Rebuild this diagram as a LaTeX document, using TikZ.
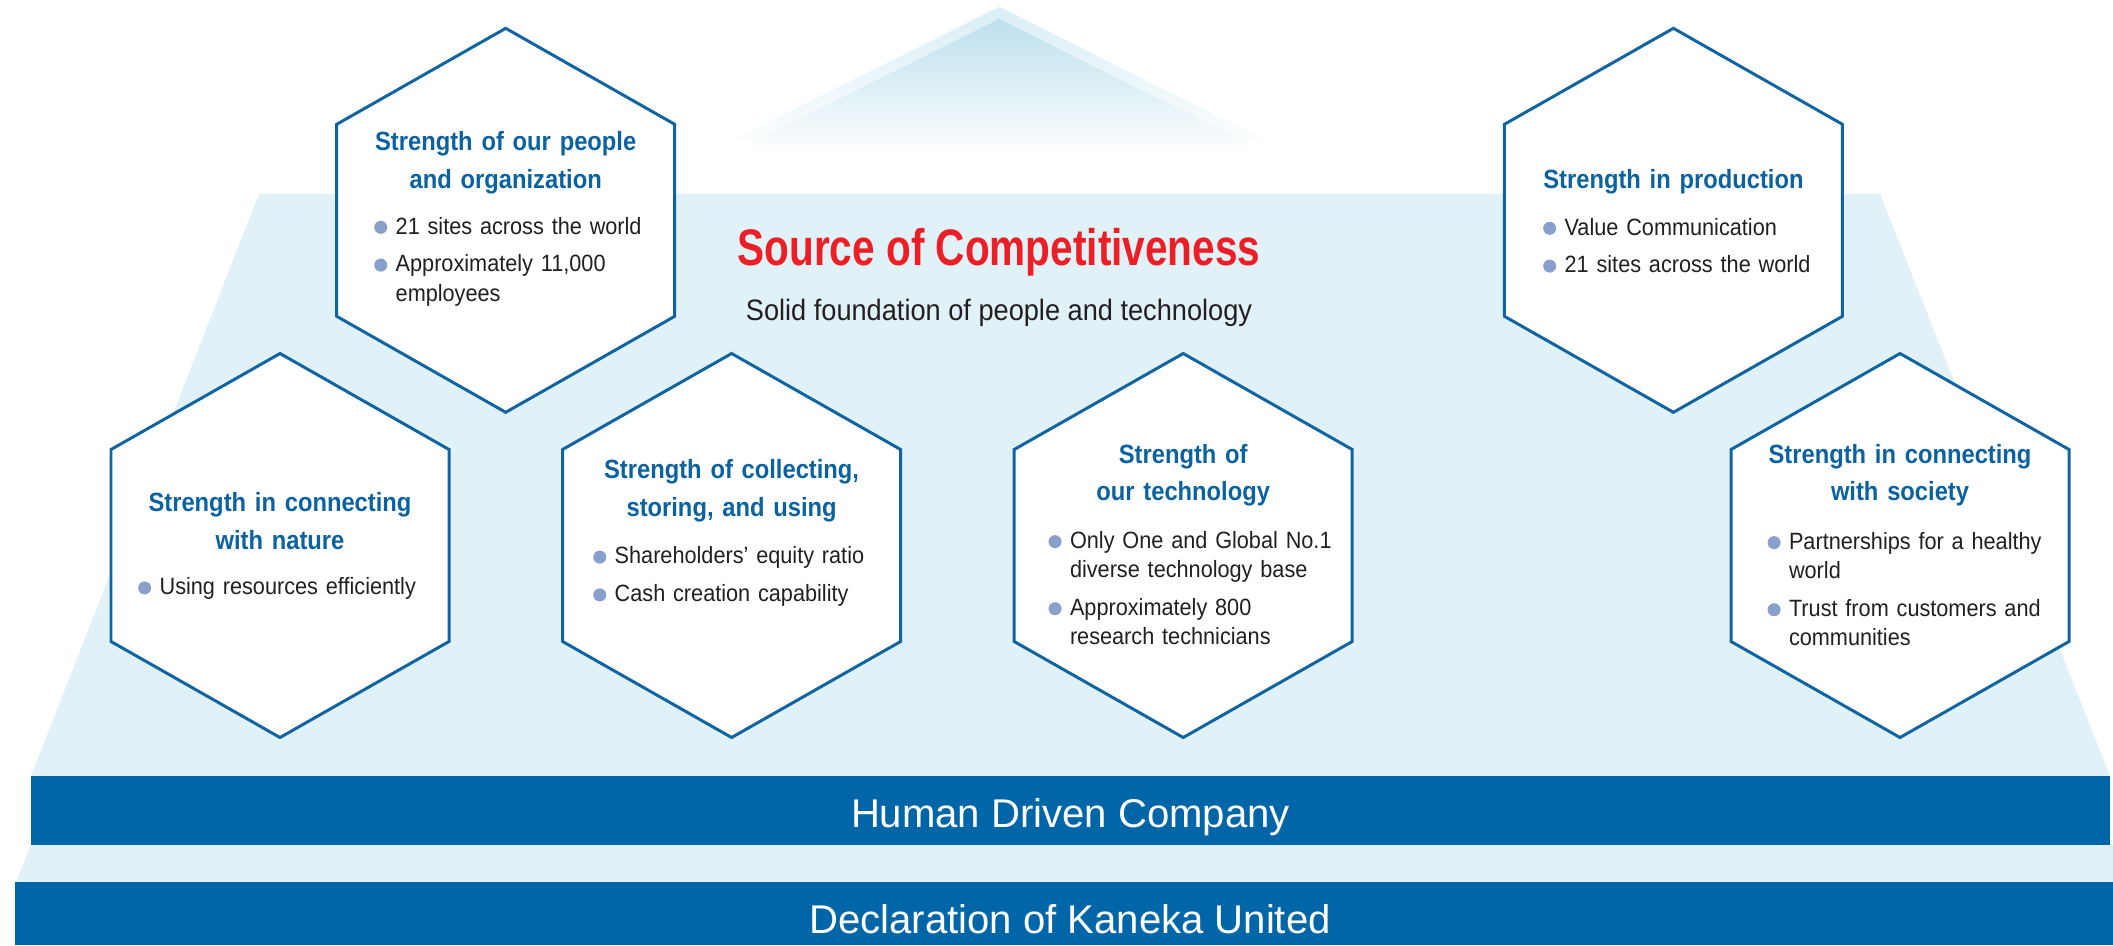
\documentclass[tikz,border=0pt]{standalone}
\usepackage{fontspec}
\setmainfont{Liberation Sans}
\newfontfamily\titlefont[FakeStretch=0.79]{Liberation Sans}
\newfontfamily\headfont[FakeStretch=0.9]{Liberation Sans}
\newfontfamily\bodyfont[FakeStretch=0.92]{Liberation Sans}

\definecolor{bgblue}{RGB}{224,242,247}
\definecolor{barblue}{RGB}{0,102,167}
\definecolor{hexblue}{RGB}{16,100,162}
\definecolor{titleblue}{RGB}{10,98,160}
\definecolor{srcred}{RGB}{236,30,38}
\definecolor{inkgray}{RGB}{35,31,32}
\definecolor{dotblue}{RGB}{137,160,204}
\definecolor{peakout}{RGB}{201,231,241}
\definecolor{peakin}{RGB}{159,210,229}

% sfumature della punta: bianco in basso
\pgfdeclareverticalshading{peakoutfade}{100bp}{color(0bp)=(white); color(18bp)=(white); color(100bp)=(peakout)}
\pgfdeclareverticalshading{peakinfade}{100bp}{color(0bp)=(white); color(20bp)=(white); color(100bp)=(peakin)}

\newcommand{\hexdot}{\makebox[0pt][r]{\tikz[baseline=0pt]\fill[dotblue] (0pt,1.9pt) circle (1.85pt);\hspace{2.4pt}}}

\tikzset{
  hexcell/.style={draw=hexblue, line width=0.85pt, fill=white},
  hextitle/.style={anchor=base, inner sep=0pt, text width=3.4cm, align=center, text=titleblue,
    font=\headfont\bfseries\fontsize{7.5}{10.7}\selectfont},
  hexlist/.style={anchor=base west, inner sep=0pt, text width=3cm, align=left, text=inkgray,
    font=\bodyfont\fontsize{6.7}{8.34}\selectfont},
  titletext/.style={anchor=base, inner sep=0pt, text=srcred, font=\titlefont\bfseries\fontsize{14.6}{17}\selectfont},
  subtext/.style={anchor=base, inner sep=0pt, text=inkgray, font=\bodyfont\fontsize{8.4}{10}\selectfont},
  bartext/.style={anchor=base, inner sep=0pt, text=white, font=\fontsize{11.4}{13}\selectfont},
}

\begin{document}
\begin{tikzpicture}[x=0.01cm, y=-0.01cm]
    \useasboundingbox (0,0) rectangle (2113,945);

    % Punta
    \shade[shading=peakoutfade] (733,140) -- (999,7) -- (1265,140) -- cycle;
    \shade[shading=peakinfade] (747,145) -- (999,19) -- (1251,145) -- cycle;

    % Sfondo
    \fill[bgblue] (259,194) -- (1880,194) -- (2110,776) -- (31,776) -- cycle;
    \fill[bgblue] (31,845) -- (2113,845) -- (2113,882) -- (16,882) -- cycle;

    % Esagoni
    \foreach \cx/\cy/\nm in {505.7/220.3/people, 1673.4/220.3/production, 280/545.5/nature,
        731.6/545.5/collecting, 1183.2/545.5/technology, 1900/545.5/society}{
        \coordinate (\nm) at (\cx,\cy);
        \draw[hexcell] (\cx,\cy-192) -- (\cx+169,\cy-96) -- (\cx+169,\cy+96) -- (\cx,\cy+192)
            -- (\cx-169,\cy+96) -- (\cx-169,\cy-96) -- cycle;
    }

    % Titolo
    \node[titletext] (source) at (999,265) {Source of Competitiveness};
    \node[subtext] (solid) at (999,320) {Solid foundation of people and technology};

    % Testi negli esagoni
    \node[hextitle] (t-people) at (505.7,150.7) {Strength of our people\\and organization};
    \node[hexlist] (l-people) at (395,234) {\hexdot 21 sites across the world\\[2.4pt]\hexdot Approximately 11,000\\employees};

    \node[hextitle] (t-production) at (1673.4,188.3) {Strength in production};
    \node[hexlist] (l-production) at (1563.9,235) {\hexdot Value Communication\\[2.4pt]\hexdot 21 sites across the world};

    \node[hextitle] (t-nature) at (280,511.7) {Strength in connecting\\with nature};
    \node[hexlist] (l-nature) at (158.9,594.6) {\hexdot Using resources efficiently};

    \node[hextitle] (t-collecting) at (731.6,478.9) {Strength of collecting,\\storing, and using};
    \node[hexlist] (l-collecting) at (614,563.8) {\hexdot Shareholders’ equity ratio\\[2.4pt]\hexdot Cash creation capability};

    \node[hextitle] (t-technology) at (1183.2,463.3) {Strength of\\our technology};
    \node[hexlist] (l-technology) at (1069.3,548.3) {\hexdot Only One and Global No.1\\diverse technology base\\[2.4pt]\hexdot Approximately 800\\research technicians};

    \node[hextitle] (t-society) at (1900,463.3) {Strength in connecting\\with society};
    \node[hexlist] (l-society) at (1788.3,549.3) {\hexdot Partnerships for a healthy\\world\\[2.4pt]\hexdot Trust from customers and\\communities};

    % Fasce
    \fill[barblue] (31,776) rectangle (2110,845);
    \fill[barblue] (15,882) rectangle (2113,945);
    \node[bartext] (hdc) at (1070.5,827.3) {Human Driven Company};
    \node[bartext] (dku) at (1070,933.3) {Declaration of Kaneka United};

\end{tikzpicture}
\end{document}
